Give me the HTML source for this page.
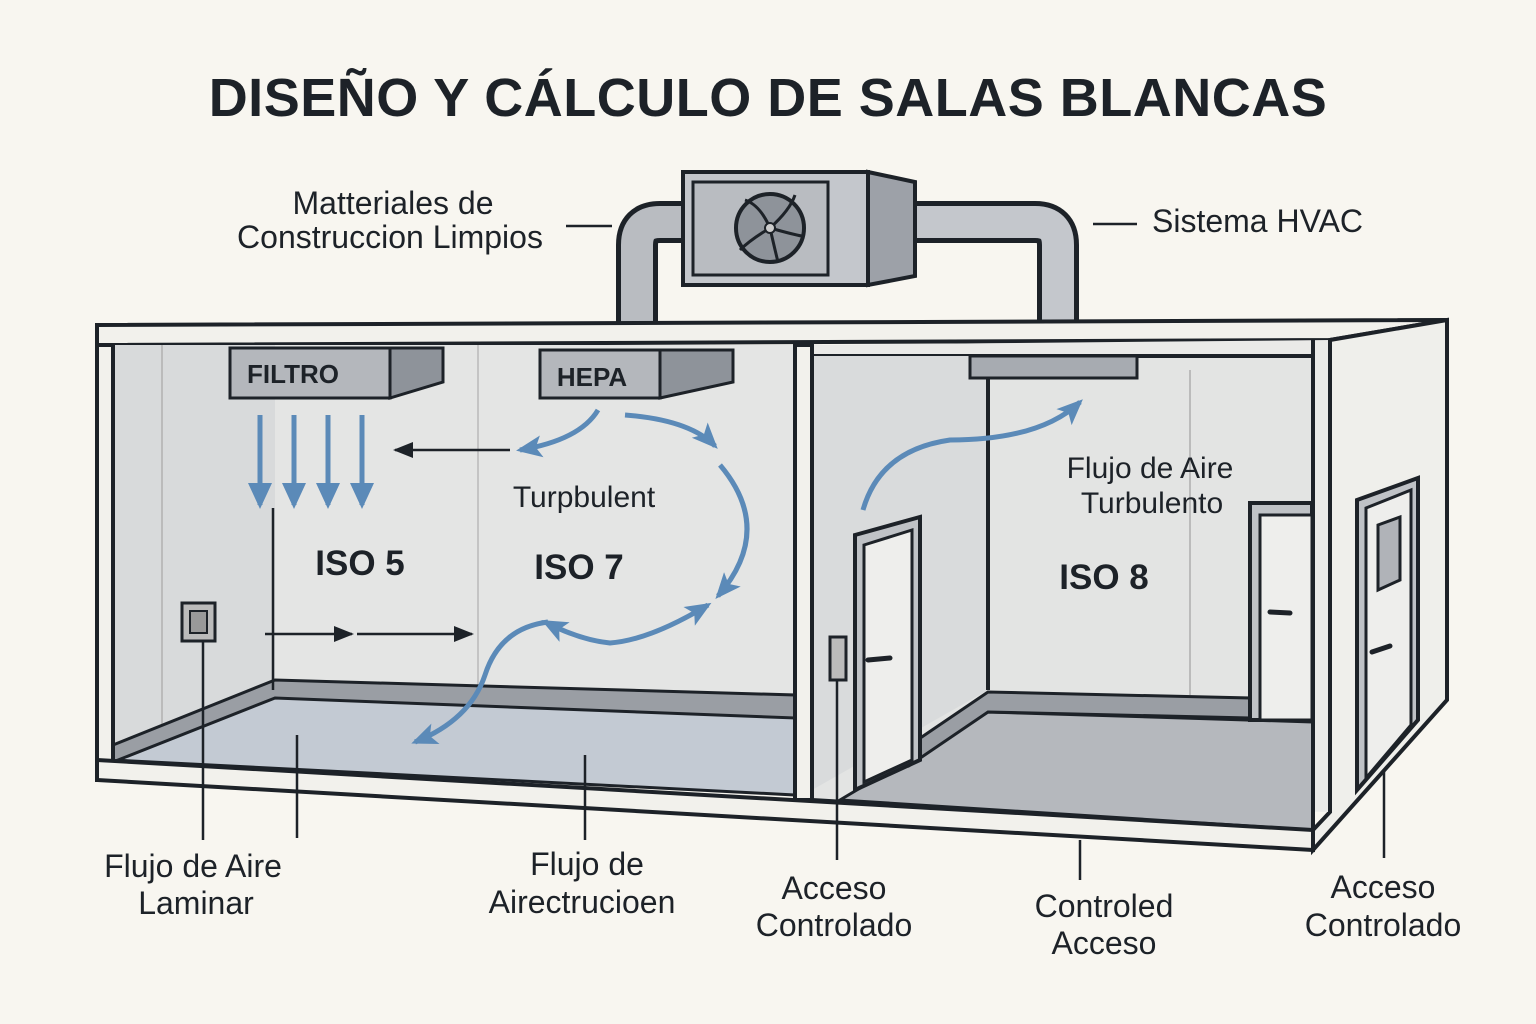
<!DOCTYPE html>
<html><head><meta charset="utf-8"><style>
html,body{margin:0;padding:0;background:#f8f6f0;}
svg{display:block;}
text{font-family:"Liberation Sans",sans-serif;fill:#1d2228;}
.lbl{font-size:32px;}
.iso{font-size:35px;font-weight:bold;}
</style></head><body>
<svg width="1536" height="1024" viewBox="0 0 1536 1024" xmlns="http://www.w3.org/2000/svg">
<defs>
<marker id="bh" markerWidth="26" markerHeight="26" refX="22" refY="13" orient="auto-start-reverse" markerUnits="userSpaceOnUse"><path d="M0,2 L26,13 L0,24 L6,13z" fill="#5b8ab8"/></marker>
<marker id="bd" markerWidth="26" markerHeight="26" refX="22" refY="13" orient="auto" markerUnits="userSpaceOnUse"><path d="M0,1 L26,13 L0,25z" fill="#5b8ab8"/></marker>
<marker id="kh" markerWidth="20" markerHeight="20" refX="18" refY="10" orient="auto" markerUnits="userSpaceOnUse"><path d="M0,2 L20,10 L0,18z" fill="#1d2228"/></marker>
</defs>
<rect width="1536" height="1024" fill="#f8f6f0"/>
<text x="768" y="116" text-anchor="middle" style="font-size:54px;font-weight:bold;letter-spacing:0.5px">DISEÑO Y CÁLCULO DE SALAS BLANCAS</text>

<path d="M637,325 L637,245 Q637,222 660,222 L690,222" fill="none" stroke="#1d2228" stroke-width="42"/>
<path d="M637,325 L637,245 Q637,222 660,222 L690,222" fill="none" stroke="#b9bcc1" stroke-width="32"/>
<path d="M900,222 L1035,222 Q1058,222 1058,245 L1058,325" fill="none" stroke="#1d2228" stroke-width="42"/>
<path d="M900,222 L1035,222 Q1058,222 1058,245 L1058,325" fill="none" stroke="#c4c7cc" stroke-width="32"/>
<polygon points="868,172 915,182 915,276 868,285" fill="#9da1a8" stroke="#1d2228" stroke-width="4"/>
<rect x="683" y="172" width="185" height="113" fill="#c4c7cc" stroke="#1d2228" stroke-width="4"/>
<rect x="693" y="182" width="135" height="93" fill="#b9bcc1" stroke="#1d2228" stroke-width="3"/>
<circle cx="770" cy="228" r="34" fill="#8e939a" stroke="#1d2228" stroke-width="4"/>
<g stroke="#1d2228" stroke-width="3" fill="none">
<path d="M770,228 Q760,205 745,200"/><path d="M770,228 Q790,210 795,195"/><path d="M770,228 Q795,235 802,236"/><path d="M770,228 Q775,250 778,262"/><path d="M770,228 Q750,240 740,250"/></g>
<circle cx="770" cy="228" r="5" fill="#ccc" stroke="#1d2228" stroke-width="2"/>

<polygon points="97,325 1447,320 1330,340 97,345" fill="#f2f1ec" stroke="#1d2228" stroke-width="4"/>
<polygon points="1330,340 1447,320 1447,700 1313,850 1313,830 1330,812" fill="#efefeb" stroke="#1d2228" stroke-width="4"/>
<polygon points="113,345 795,345 795,705 275,690 113,760" fill="#e4e5e4"/>
<polygon points="113,345 275,345 275,690 113,760" fill="#d8dadb"/>
<line x1="162" y1="345" x2="162" y2="740" stroke="#bbb" stroke-width="2"/>
<line x1="478" y1="345" x2="478" y2="690" stroke="#c4c4c4" stroke-width="2"/>
<polygon points="113,760 275,690 795,705 795,795" fill="#c3cad3" stroke="#1d2228" stroke-width="3"/>
<polygon points="113,745 275,680 795,695 795,718 275,698 113,762" fill="#9a9ea4" stroke="#1d2228" stroke-width="3"/>
<polygon points="812,345 1330,340 1330,812 812,800" fill="#eaeae8"/>
<polygon points="812,356 1313,356 1313,830 812,800" fill="#e3e4e3" stroke="#1d2228" stroke-width="4"/>
<polygon points="812,356 988,356 988,690 812,790" fill="#d9dbdc"/>
<line x1="988" y1="356" x2="988" y2="690" stroke="#1d2228" stroke-width="4"/>
<line x1="1190" y1="370" x2="1190" y2="695" stroke="#bbb" stroke-width="2"/>
<polygon points="840,800 988,712 1313,722 1313,830" fill="#b5b8bd" stroke="#1d2228" stroke-width="3"/>
<polygon points="910,745 988,692 1250,698 1250,718 988,712 910,765" fill="#9a9ea4" stroke="#1d2228" stroke-width="3"/>
<rect x="795" y="345" width="17" height="455" fill="#f2f1ec" stroke="#1d2228" stroke-width="4"/>
<rect x="97" y="345" width="16" height="435" fill="#f2f1ec" stroke="#1d2228" stroke-width="4"/>
<polygon points="97,760 1313,830 1313,850 97,780" fill="#f2f1ec" stroke="#1d2228" stroke-width="4"/>
<line x1="1313" y1="340" x2="1313" y2="850" stroke="#1d2228" stroke-width="4"/>
<line x1="1330" y1="340" x2="1330" y2="812" stroke="#1d2228" stroke-width="4"/>

<polygon points="390,348 443,348 443,382 390,398" fill="#8e939a" stroke="#1d2228" stroke-width="3"/>
<rect x="230" y="348" width="160" height="50" fill="#b4b7bc" stroke="#1d2228" stroke-width="3"/>
<text x="293" y="383" text-anchor="middle" style="font-size:26px;font-weight:bold">FILTRO</text>
<polygon points="660,350 733,350 733,382 660,398" fill="#8e939a" stroke="#1d2228" stroke-width="3"/>
<rect x="540" y="350" width="120" height="48" fill="#b4b7bc" stroke="#1d2228" stroke-width="3"/>
<text x="592" y="386" text-anchor="middle" style="font-size:26px;font-weight:bold">HEPA</text>
<rect x="970" y="356" width="167" height="22" fill="#a7abb1" stroke="#1d2228" stroke-width="3"/>

<polygon points="855,535 920,517 920,760 855,790" fill="#bfc2c6" stroke="#1d2228" stroke-width="4"/>
<polygon points="864,545 912,530 912,760 864,782" fill="#eeeeec" stroke="#1d2228" stroke-width="3"/>
<path d="M868,660 L890,658" stroke="#1d2228" stroke-width="5" stroke-linecap="round"/>
<rect x="830" y="637" width="16" height="43" fill="#bbb" stroke="#1d2228" stroke-width="3"/>
<rect x="1250" y="503" width="62" height="217" fill="#bfc2c6" stroke="#1d2228" stroke-width="4"/>
<rect x="1260" y="515" width="52" height="205" fill="#eeeeec" stroke="#1d2228" stroke-width="3"/>
<path d="M1270,612 L1290,613" stroke="#1d2228" stroke-width="5" stroke-linecap="round"/>
<polygon points="1357,500 1418,478 1418,720 1357,790" fill="#bfc2c6" stroke="#1d2228" stroke-width="4"/>
<polygon points="1366,508 1411,490 1411,725 1366,778" fill="#eeeeec" stroke="#1d2228" stroke-width="3"/>
<polygon points="1378,525 1400,517 1400,580 1378,590" fill="#b0b3b8" stroke="#1d2228" stroke-width="3"/>
<path d="M1372,652 L1390,646" stroke="#1d2228" stroke-width="5" stroke-linecap="round"/>
<rect x="182" y="603" width="33" height="38" fill="#bbb" stroke="#1d2228" stroke-width="3"/>
<rect x="190" y="611" width="17" height="22" fill="#999" stroke="#1d2228" stroke-width="2"/>

<g stroke="#5b8ab8" stroke-width="5" fill="none">
<line x1="260" y1="415" x2="260" y2="505" marker-end="url(#bd)"/><line x1="294" y1="415" x2="294" y2="505" marker-end="url(#bd)"/>
<line x1="328" y1="415" x2="328" y2="505" marker-end="url(#bd)"/><line x1="362" y1="415" x2="362" y2="505" marker-end="url(#bd)"/>
<path d="M598,410 Q580,440 520,450" marker-end="url(#bh)"/>
<path d="M625,415 Q690,420 715,446" marker-end="url(#bh)"/>
<path d="M720,465 Q775,530 718,596" marker-end="url(#bh)"/>
<path d="M545,622 Q580,640 610,643 Q650,640 708,605" marker-start="url(#bh)" marker-end="url(#bh)"/>
<path d="M548,622 Q500,628 485,675 Q470,720 415,742" marker-end="url(#bh)"/>
<path d="M863,510 Q880,450 950,440 Q1040,440 1080,402" marker-end="url(#bh)"/>
</g>
<g stroke="#1d2228" stroke-width="2.5" fill="none">
<line x1="510" y1="450" x2="395" y2="450" marker-end="url(#kh)"/>
<line x1="265" y1="634" x2="352" y2="634" marker-end="url(#kh)"/>
<line x1="357" y1="634" x2="472" y2="634" marker-end="url(#kh)"/>
<line x1="273" y1="508" x2="273" y2="690"/>
<line x1="203" y1="641" x2="203" y2="840"/>
<line x1="297" y1="735" x2="297" y2="838"/>
<line x1="585" y1="755" x2="585" y2="840"/>
<line x1="837" y1="680" x2="837" y2="860"/>
<line x1="1080" y1="840" x2="1080" y2="880"/>
<line x1="1384" y1="770" x2="1384" y2="858"/>
<line x1="566" y1="226" x2="612" y2="226"/>
<line x1="1093" y1="224" x2="1137" y2="224"/>
</g>

<text class="lbl" x="393" y="214" text-anchor="middle">Matteriales de</text>
<text class="lbl" x="390" y="248" text-anchor="middle">Construccion Limpios</text>
<text class="lbl" x="1152" y="232">Sistema HVAC</text>
<text class="lbl" x="584" y="507" text-anchor="middle" style="font-size:30px">Turpbulent</text>
<text class="lbl" x="1150" y="478" text-anchor="middle" style="font-size:30px">Flujo de Aire</text>
<text class="lbl" x="1152" y="513" text-anchor="middle" style="font-size:30px">Turbulento</text>
<text class="iso" x="360" y="575" text-anchor="middle">ISO 5</text>
<text class="iso" x="579" y="579" text-anchor="middle">ISO 7</text>
<text class="iso" x="1104" y="589" text-anchor="middle">ISO 8</text>
<text class="lbl" x="193" y="877" text-anchor="middle">Flujo de Aire</text>
<text class="lbl" x="196" y="914" text-anchor="middle">Laminar</text>
<text class="lbl" x="587" y="875" text-anchor="middle">Flujo de</text>
<text class="lbl" x="582" y="913" text-anchor="middle">Airectrucioen</text>
<text class="lbl" x="834" y="899" text-anchor="middle">Acceso</text>
<text class="lbl" x="834" y="936" text-anchor="middle">Controlado</text>
<text class="lbl" x="1104" y="917" text-anchor="middle">Controled</text>
<text class="lbl" x="1104" y="954" text-anchor="middle">Acceso</text>
<text class="lbl" x="1383" y="898" text-anchor="middle">Acceso</text>
<text class="lbl" x="1383" y="936" text-anchor="middle">Controlado</text>
</svg>
</body></html>
